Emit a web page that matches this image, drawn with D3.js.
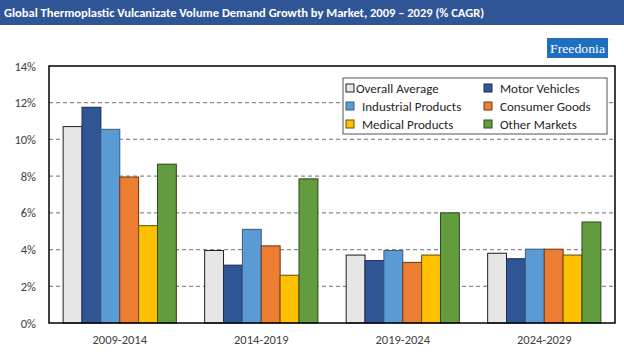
<!DOCTYPE html>
<html>
<head>
<meta charset="utf-8">
<script src="https://cdn.jsdelivr.net/npm/d3@7"></script>
<style>
  body { margin: 0; background: #fff; }
  svg { display: block; font-family: Calibri, Carlito, "Open Sans", sans-serif; }
</style>
</head>
<body>
<div id="chart"></div>
<script>
// data
const periods = ["2009-2014", "2014-2019", "2019-2024", "2024-2029"]
const markets = ["Overall Average", "Motor Vehicles", "Industrial Products", "Consumer Goods", "Medical Products", "Other Markets"]
const overallAverage = [10.7, 3.95, 3.7, 3.8]
const motorVehicles = [11.75, 3.15, 3.4, 3.5]
const industrialProducts = [10.55, 5.1, 3.95, 4.02]
const consumerGoods = [7.95, 4.2, 3.3, 4.02]
const medicalProducts = [5.3, 2.6, 3.7, 3.7]
const otherMarkets = [8.65, 7.85, 6.0, 5.5]
const yTicks = [0, 2, 4, 6, 8, 10, 12, 14]

const seriesValues = [overallAverage, motorVehicles, industrialProducts, consumerGoods, medicalProducts, otherMarkets]
const colors = ["#E7E6E6", "#2F5597", "#5B9BD5", "#ED7D31", "#FFC000", "#629C3F"]
const strokes = ["#222", "#1c2f55", "#3d5f80", "#6e3a17", "#6b5200", "#2f4a1f"]

const width = 624, height = 353
const margin = { top: 66, right: 9, bottom: 30, left: 49 }

const svg = d3.select("#chart").append("svg")
  .attr("width", width)
  .attr("height", height)

// title bar
svg.append("rect")
  .attr("x", 0).attr("y", 0)
  .attr("width", width).attr("height", 25)
  .attr("fill", "#2F5597")
svg.append("text")
  .attr("x", 4).attr("y", 17)
  .attr("fill", "white")
  .attr("font-size", 12.5)
  .attr("font-weight", "bold")
  .text("Global Thermoplastic Vulcanizate Volume Demand Growth by Market, 2009 \u2013 2029 (% CAGR)")

// logo
svg.append("rect")
  .attr("x", 547).attr("y", 38)
  .attr("width", 61).attr("height", 20)
  .attr("fill", "#1F6EC0")
svg.append("text")
  .attr("x", 550).attr("y", 53)
  .attr("fill", "white")
  .attr("font-family", "'Liberation Serif', serif")
  .attr("font-size", 13)
  .attr("textLength", 55)
  .attr("lengthAdjust", "spacingAndGlyphs")
  .text("Freedonia")
svg.append("text")
  .attr("x", 609).attr("y", 42)
  .attr("fill", "#1F6EC0")
  .attr("font-size", 4)
  .text("\u00AE")

const x0 = d3.scaleBand()
  .domain(periods)
  .range([margin.left, width - margin.right])
  .paddingInner(0.2)
  .paddingOuter(0.1)

const x1 = d3.scaleBand()
  .domain(markets)
  .range([0, x0.bandwidth()])

const y = d3.scaleLinear()
  .domain([0, 14])
  .range([height - margin.bottom, margin.top])

// gridlines
svg.append("g")
  .selectAll("line")
  .data(yTicks.filter(d => d > 0 && d < 14))
  .enter()
  .append("line")
  .attr("x1", margin.left).attr("x2", width - margin.right)
  .attr("y1", d => y(d)).attr("y2", d => y(d))
  .attr("stroke", "#8c8c8c")
  .attr("stroke-width", 1.2)
  .attr("stroke-dasharray", "4,3")

// bars
const rows = periods.map((p, i) => ({ period: p, values: markets.map((m, j) => ({ market: m, j: j, value: seriesValues[j][i] })) }))

const groups = svg.append("g")
  .selectAll("g")
  .data(rows)
  .enter()
  .append("g")
  .attr("transform", d => `translate(${x0(d.period)},0)`)

// soft shadow
groups.selectAll("rect.shadow")
  .data(d => d.values)
  .enter()
  .append("rect")
  .attr("class", "shadow")
  .attr("x", d => x1(d.market) + 0.5)
  .attr("y", d => y(d.value) - 0.5)
  .attr("width", x1.bandwidth())
  .attr("height", d => y(0) - y(d.value))
  .attr("fill", "#bbb")
  .attr("opacity", 0.6)

groups.selectAll("rect.bar")
  .data(d => d.values)
  .enter()
  .append("rect")
  .attr("class", "bar")
  .attr("x", d => x1(d.market))
  .attr("y", d => y(d.value))
  .attr("width", x1.bandwidth())
  .attr("height", d => y(0) - y(d.value))
  .attr("fill", d => colors[d.j])
  .attr("stroke", d => strokes[d.j])
  .attr("stroke-width", 1)

// frame
svg.append("rect")
  .attr("x", margin.left).attr("y", margin.top)
  .attr("width", width - margin.right - margin.left)
  .attr("height", height - margin.bottom - margin.top)
  .attr("fill", "none")
  .attr("stroke", "black")
  .attr("stroke-width", 1.5)

// axes
const yAxis = d3.axisLeft(y).tickValues(yTicks).tickSize(0).tickPadding(13).tickFormat(d => d + "%")
svg.append("g")
  .attr("class", "axis y-axis")
  .attr("transform", `translate(${margin.left},0)`)
  .call(yAxis)
  .call(g => g.select(".domain").remove())
  .selectAll("text")
  .attr("font-size", 12.5)
  .attr("fill", "#404040")
  .attr("font-family", "Calibri, Carlito, 'Open Sans', sans-serif")

const xAxis = d3.axisBottom(x0).tickSize(0).tickPadding(12)
svg.append("g")
  .attr("class", "axis x-axis")
  .attr("transform", `translate(0,${height - margin.bottom})`)
  .call(xAxis)
  .call(g => g.select(".domain").remove())
  .selectAll("text")
  .attr("font-size", 12.5)
  .attr("fill", "#404040")
  .attr("font-family", "Calibri, Carlito, 'Open Sans', sans-serif")

// legend
const legend = svg.append("g")
legend.append("rect")
  .attr("x", 343).attr("y", 78)
  .attr("width", 264).attr("height", 56)
  .attr("fill", "white")
  .attr("stroke", "#555")
  .attr("stroke-width", 1)

const items = legend.selectAll("g")
  .data(markets)
  .enter()
  .append("g")
  .attr("transform", (d, i) => `translate(${i % 2 ? 488 : 350},${88 + Math.floor(i / 2) * 18})`)

items.append("rect")
  .attr("x", -4).attr("y", -4)
  .attr("width", 8).attr("height", 8)
  .attr("fill", (d, i) => colors[i])
  .attr("stroke", (d, i) => i === 0 ? "#222" : strokes[i])

items.append("text")
  .attr("x", (d, i) => i === 0 ? 6 : 12)
  .attr("y", 4.5)
  .attr("font-size", 13)
  .attr("fill", "#262626")
  .text(d => d)
</script>
</body>
</html>
